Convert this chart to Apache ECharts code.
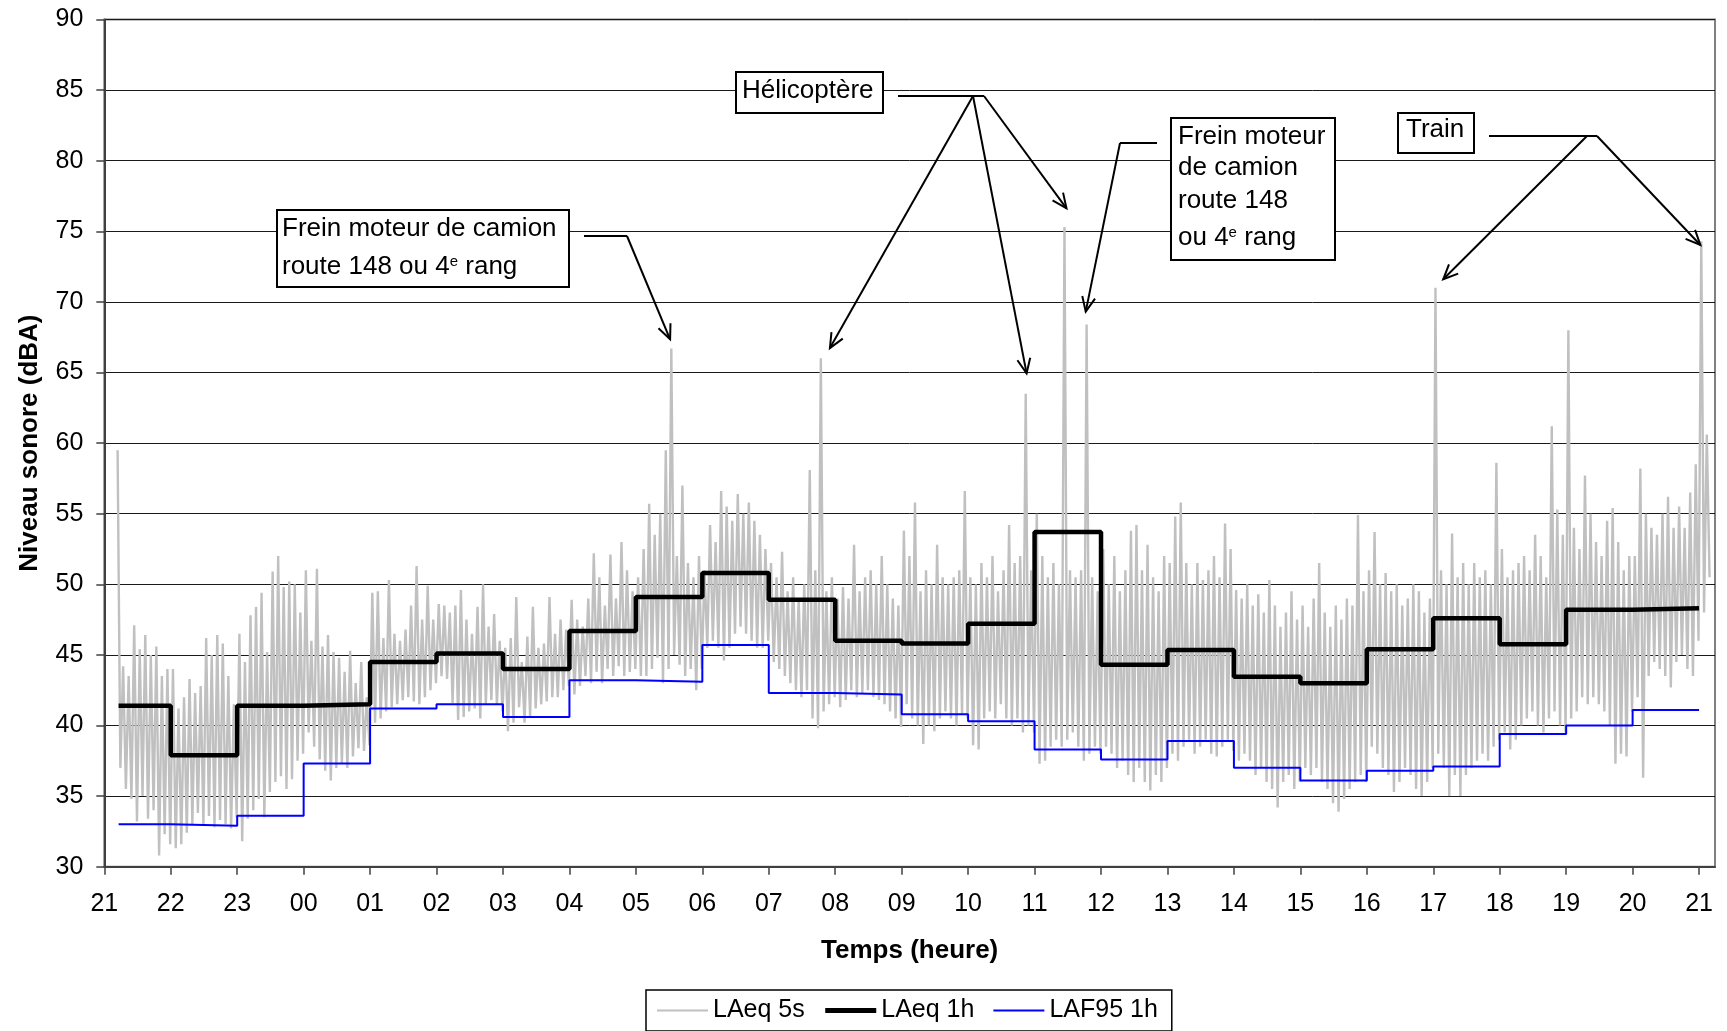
<!DOCTYPE html>
<html><head><meta charset="utf-8">
<script src="https://cdn.jsdelivr.net/npm/echarts@6/dist/echarts.min.js"></script>
<style>html,body{margin:0;padding:0;background:#fff}#c{width:1727px;height:1031px}</style>
</head><body><div id="c"></div>
<script>
// ---- tick labels (hours, 21:00 -> 21:00 next day) ----
const tickLabels = ['21','22','23','00','01','02','03','04','05','06','07','08','09','10','11','12','13','14','15','16','17','18','19','20','21'];

// ---- hourly levels (dBA), one value per hour starting 21:00 ----
const laeq1h = [41.4, 37.9, 41.4, 41.5, 44.5, 45.1, 44.0, 46.7, 49.1, 50.8, 48.9, 46.0,
                45.8, 47.2, 53.7, 44.3, 45.35, 43.45, 43.0, 45.4, 47.6, 45.75, 48.2, 48.3];
const laf95_1h = [33.0, 32.9, 33.6, 37.3, 41.2, 41.5, 40.6, 43.2, 43.1, 45.7, 42.3, 42.2,
                  40.8, 40.3, 38.3, 37.6, 38.9, 37.0, 36.1, 36.8, 37.1, 39.4, 40.0, 41.1];
const firstSampleHour = 0.215;   // measurement starts ~21:13

// ---- LAeq 5s: read as peaks / troughs per 5-minute slot, from 21:12 ----
const laeq5sPeaks = [
  59.5, 44.2, 43.5, 47.1, 45.4, 46.4, 45.0, 45.6, 43.5, 44.0,
  44.0, 41.2, 42.0, 43.3, 42.3, 42.8, 46.2, 45.0, 46.4, 45.8, 43.5, 41.5,
  46.5, 44.5, 47.8, 48.4, 49.4, 45.2, 50.9, 52.0, 49.8, 50.2, 50.0, 48.0,
  51.0, 46.0, 51.1, 45.6, 46.4, 45.2, 44.8, 43.8, 45.3, 43.0, 44.5, 42.0,
  49.4, 49.5, 46.2, 50.3, 46.5, 46.0, 46.8, 48.5, 51.3, 47.5, 49.9, 47.5,
  48.6, 48.5, 48.0, 48.5, 49.6, 47.5, 46.5, 48.4, 50.0, 47.0, 47.9, 46.0,
  45.5, 46.2, 49.1, 44.5, 46.3, 48.4, 45.5, 45.8, 49.1, 46.5, 47.5, 46.8,
  48.9, 47.5, 47.0, 49.0, 52.2, 50.5, 48.5, 52.1, 49.0, 53.0, 51.0, 49.5,
  50.5, 52.5, 55.7, 53.5, 55.0, 59.5, 66.7, 52.0, 57.0, 51.5, 50.5, 52.0,
  51.0, 54.2, 53.0, 56.6, 55.5, 54.5, 56.4, 55.0, 55.8, 54.5, 53.5, 52.5,
  51.5, 50.5, 52.3, 49.5, 50.5, 49.0, 50.0, 58.1, 51.0, 66.0, 49.5, 50.5,
  49.0, 49.8, 49.0, 52.8, 49.5, 50.5, 51.0, 50.0, 52.0, 50.0, 49.0, 48.5,
  53.8, 52.0, 55.8, 49.5, 51.0, 50.0, 52.8, 50.5, 50.0, 50.5, 51.0, 56.6,
  50.5, 50.0, 51.5, 50.5, 52.0, 49.5, 51.0, 54.2, 51.5, 52.0, 63.5, 51.0,
  55.0, 52.0, 50.5, 51.5, 50.0, 75.3, 51.0, 50.5, 51.0, 68.4, 50.5, 49.5,
  52.5, 50.0, 52.0, 49.5, 51.0, 53.8, 54.2, 51.0, 52.8, 50.5, 49.5, 52.0,
  51.5, 54.8, 55.8, 51.5, 50.0, 51.5, 50.3, 51.0, 52.0, 50.5, 54.3, 52.5,
  49.6, 49.0, 50.0, 48.5, 49.3, 48.0, 50.3, 48.5, 47.0, 48.0, 49.5, 47.5,
  48.5, 47.0, 49.0, 51.5, 48.0, 47.0, 48.5, 47.5, 49.0, 48.5, 54.9, 49.5,
  51.0, 53.7, 50.0, 50.8, 49.5, 50.0, 48.5, 49.0, 50.0, 49.5, 48.0, 49.0,
  71.0, 51.0, 50.0, 53.6, 50.5, 51.5, 50.0, 51.5, 50.5, 51.0, 50.0, 58.6,
  52.5, 50.5, 51.0, 51.5, 52.0, 51.0, 53.5, 52.0, 50.5, 61.2, 55.3, 53.5,
  68.0, 54.0, 52.5, 57.7, 55.0, 53.0, 52.0, 54.5, 55.4, 53.0, 51.0, 52.0,
  52.0, 58.2, 55.0, 54.0, 53.5, 55.0, 56.2, 54.0, 55.5, 54.0, 56.5, 58.5,
  74.3, 60.6
];
const laeq5sTroughs = [
  37.0, 35.5, 34.8, 33.2, 35.0, 33.4, 34.0, 30.8, 32.3, 31.6,
  31.3, 31.6, 32.4, 33.0, 33.8, 33.0, 33.6, 32.8, 33.3, 33.0, 32.7, 33.5,
  31.8, 33.4, 34.0, 34.8, 33.5, 35.3, 36.0, 36.4, 35.5, 36.2, 37.5, 38.0,
  39.5, 38.5, 37.6, 36.8, 36.1, 37.0, 37.3, 37.0, 37.8, 38.4, 38.2, 38.6,
  40.2, 40.5, 41.0, 41.3, 41.5, 41.8, 42.0, 41.7, 41.5, 42.0, 42.5, 43.0,
  43.5, 43.3, 41.6, 40.4, 40.6, 41.0, 41.2, 40.5, 41.5, 41.8, 41.5, 41.0,
  39.6, 40.2, 41.3, 40.2, 40.6, 41.2, 41.5, 41.7, 42.0, 42.0, 42.5, 42.8,
  42.2, 42.8, 43.5, 43.0, 43.8, 43.0, 44.0, 43.5, 44.2, 43.5, 43.8, 44.0,
  43.5, 43.5, 44.0, 44.8, 43.0, 44.0, 45.0, 44.3, 43.5, 44.0, 42.5, 44.0,
  45.5, 46.0, 45.5, 44.6, 45.5, 46.5, 47.0, 46.5, 46.0, 45.5, 45.5, 46.0,
  44.5, 44.0, 43.5, 43.0, 42.5, 42.0, 42.5, 40.5, 39.8, 41.0, 41.5, 42.0,
  41.3, 41.8, 42.5, 42.0, 42.3, 42.5, 42.0, 41.8, 41.5, 41.0, 40.5, 39.9,
  41.5, 40.5, 40.0, 38.7, 40.0, 39.6, 40.5, 41.0, 40.5, 40.0, 40.8, 40.5,
  38.6, 38.3, 40.5, 41.0, 40.5, 41.5, 40.5, 40.0, 40.5, 39.5, 40.0, 39.5,
  37.3, 37.5, 38.5, 39.0, 38.5, 39.0, 39.5, 38.5, 37.5, 38.0, 38.5, 38.0,
  38.5, 38.0, 37.0, 37.5, 36.5, 36.0, 37.0, 36.0, 35.4, 36.5, 36.0, 37.0,
  38.0, 37.5, 38.5, 39.0, 38.0, 38.5, 39.0, 38.0, 37.8, 38.5, 39.0, 38.2,
  37.5, 38.0, 37.5, 36.5, 37.0, 36.0, 35.5, 34.2, 36.0, 36.5, 35.5, 36.0,
  37.0, 36.5, 37.0, 36.0, 35.5, 34.5, 33.9, 34.8, 35.5, 36.0, 36.5, 36.0,
  38.5, 38.0, 37.0, 36.5, 35.3, 36.0, 37.0, 36.5, 35.5, 35.0, 36.0, 37.0,
  38.0, 37.0, 35.0, 36.5, 35.0, 36.5, 37.0, 37.5, 38.0, 37.5, 38.5, 39.0,
  39.5, 38.3, 39.0, 40.0, 40.5, 41.0, 40.0, 39.5, 40.5, 41.0, 40.0, 39.5,
  40.5, 41.0, 42.0, 41.5, 42.0, 41.5, 41.0, 40.0, 37.3, 38.0, 37.8, 41.0,
  42.0, 36.3, 43.5, 44.5, 44.0, 43.5, 42.7, 44.5, 45.0, 44.0, 43.5, 46.0,
  48.0, 50.5
];
const slotStartHour = 0.2, slotHours = 1 / 12;

// ---- build series data ----
const grayData = [];
laeq5sPeaks.forEach((v, i) => {
  grayData.push([slotStartHour + i * slotHours, v]);
  grayData.push([slotStartHour + (i + 0.5) * slotHours, laeq5sTroughs[i]]);
});
function stepData(vals) {
  const d = vals.map((v, i) => [i === 0 ? firstSampleHour : i, v]);
  d.push([vals.length, vals[vals.length - 1]]);
  return d;
}

const FONT = "'Liberation Sans', Arial, Helvetica, sans-serif";
const chart = echarts.init(document.getElementById('c'), null, {renderer: 'canvas'});
const hourTicks = tickLabels.map((_, i) => i);
const noSymbol = {color: 'rgba(0,0,0,0)', borderColor: 'rgba(0,0,0,0)', borderWidth: 0, opacity: 0};

chart.setOption({
  animation: false,
  backgroundColor: '#fff',
  textStyle: {fontFamily: FONT},
  grid: {left: 104.3, top: 19.5, width: 1610.7, height: 847.2, show: true,
         borderColor: '#808080', borderWidth: 2, backgroundColor: 'transparent'},
  xAxis: {
    type: 'value', min: 0, max: 24.24, interval: 1,
    axisLine: {show: true, onZero: false, lineStyle: {color: '#404040', width: 2}},
    axisTick: {show: true, inside: false, length: 8, customValues: hourTicks,
               lineStyle: {color: '#404040', width: 1.5}},
    axisLabel: {customValues: hourTicks, fontSize: 25, color: '#000', margin: 25, fontFamily: FONT,
      formatter: v => (Math.abs(v - Math.round(v)) < 1e-6 && tickLabels[Math.round(v)] !== undefined) ? tickLabels[Math.round(v)] : ''},
    splitLine: {show: false},
    name: 'Temps (heure)', nameLocation: 'middle', nameGap: 71,
    nameTextStyle: {fontSize: 26, fontWeight: 'bold', color: '#000', fontFamily: FONT}
  },
  yAxis: {
    type: 'value', min: 30, max: 90, interval: 5,
    axisLine: {show: true, lineStyle: {color: '#404040', width: 2}},
    axisTick: {show: true, inside: false, length: 8, lineStyle: {color: '#404040', width: 1.5}},
    axisLabel: {fontSize: 25, color: '#000', margin: 21, fontFamily: FONT},
    splitLine: {show: true, lineStyle: {color: '#1a1a1a', width: 1}},
    name: 'Niveau sonore (dBA)', nameLocation: 'middle', nameGap: 61, nameRotate: 90,
    nameTextStyle: {fontSize: 26, fontWeight: 'bold', color: '#000', fontFamily: FONT}
  },
  legend: {
    left: 646, top: 990, orient: 'horizontal',
    itemWidth: 51, itemHeight: 14, itemGap: 18,
    padding: [8, 14, 8, 10],
    borderColor: '#000', borderWidth: 1.5, backgroundColor: '#fff',
    textStyle: {fontSize: 25, color: '#000', fontFamily: FONT},
    data: [
      {name: 'LAeq 5s', lineStyle: {width: 2, color: '#C0C0C0'}, itemStyle: noSymbol},
      {name: 'LAeq 1h', lineStyle: {width: 5, color: '#000'}, itemStyle: noSymbol},
      {name: 'LAF95 1h', lineStyle: {width: 2, color: '#0000FF'}, itemStyle: noSymbol}
    ]
  },
  series: [
    {name: 'LAeq 5s', type: 'line', data: grayData, symbol: 'none', showSymbol: false,
     lineStyle: {color: '#C0C0C0', width: 2.4}, itemStyle: {color: '#C0C0C0'}, z: 1, silent: true},
    {name: 'LAeq 1h', type: 'line', step: 'end', data: stepData(laeq1h), symbol: 'none', showSymbol: false,
     lineStyle: {color: '#000', width: 4.5}, itemStyle: {color: '#000'}, z: 3, silent: true},
    {name: 'LAF95 1h', type: 'line', step: 'end', data: stepData(laf95_1h), symbol: 'none', showSymbol: false,
     lineStyle: {color: '#0000FF', width: 2}, itemStyle: {color: '#0000FF'}, z: 4, silent: true}
  ]
});

// ---- annotations (boxes + arrows) ----
const px = p => chart.convertToPixel({gridIndex: 0}, p);
const LS = {stroke: '#000', lineWidth: 2, fill: null};
const g = [];
function box(x, y, w, h) {
  g.push({type: 'rect', z: 100, shape: {x, y, width: w, height: h},
          style: {fill: '#fff', stroke: '#000', lineWidth: 2}});
}
function label(x, y, text) {
  g.push({type: 'text', z: 101, x, y, style: {text, fontSize: 26, fontFamily: FONT, fill: '#000',
    align: 'left', verticalAlign: 'middle',
    rich: {s: {fontSize: 15, fontFamily: FONT, fill: '#000', verticalAlign: 'top', lineHeight: 15}}}});
}
function line(points) { g.push({type: 'polyline', z: 100, shape: {points}, style: LS}); }
function arrow(from, tipData) {
  const tip = px(tipData);
  const dx = tip[0] - from[0], dy = tip[1] - from[1];
  const len = Math.hypot(dx, dy), ux = dx / len, uy = dy / len;
  const a = 24 * Math.PI / 180, L = 16;
  const back = ang => [tip[0] - L * (ux * Math.cos(ang) - uy * Math.sin(ang)),
                       tip[1] - L * (ux * Math.sin(ang) + uy * Math.cos(ang))];
  line([from, tip]);
  line([back(a), tip, back(-a)]);
}

// Frein moteur (left)
box(277, 210, 292, 77);
label(282, 229, 'Frein moteur de camion');
label(282, 267, 'route 148 ou 4{s|e} rang');
line([[584, 236], [627, 236]]);
arrow([627, 236], [8.515, 67.35]);

// Hélicoptère
box(736, 72, 147, 41);
label(742, 91, 'Hélicoptère');
line([[898, 96], [984, 96]]);
arrow([973, 96], [10.92, 66.73]);
arrow([973, 96], [13.88, 64.94]);
arrow([984, 96], [14.48, 76.63]);

// Frein moteur (right)
box(1171, 118, 164, 142);
label(1178, 137, 'Frein moteur');
label(1178, 168, 'de camion');
label(1178, 201, 'route 148');
label(1178, 238, 'ou 4{s|e} rang');
line([[1157, 143], [1120, 143]]);
arrow([1120, 143], [14.77, 69.31]);

// Train
box(1398, 113, 76, 40);
label(1406, 130, 'Train');
line([[1489, 136], [1597, 136]]);
arrow([1587, 136], [20.15, 71.6]);
arrow([1597, 136], [24.02, 74.03]);

chart.setOption({graphic: g});
</script>
</body></html>
